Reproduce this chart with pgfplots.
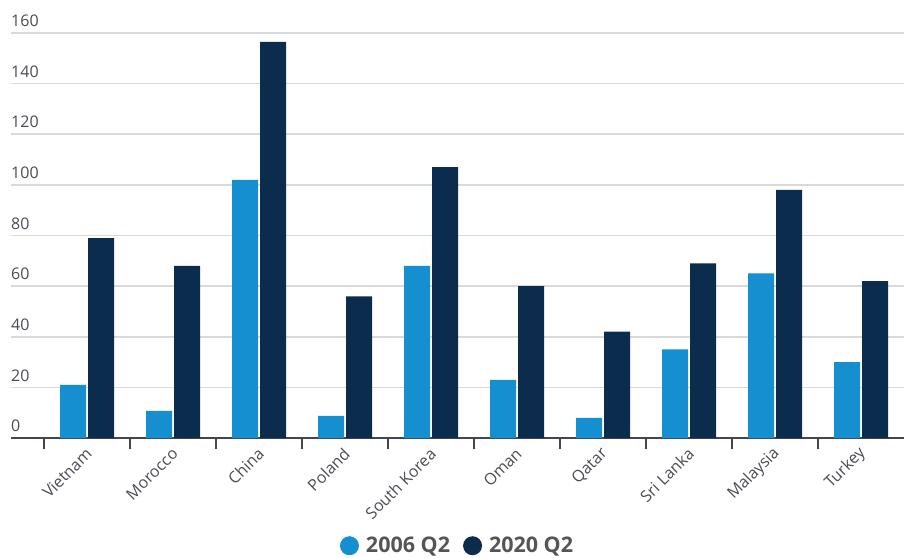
\documentclass[border=0pt]{standalone}
\usepackage{fontspec}
\setmainfont{Open Sans}
\usepackage{pgfplots}
\pgfplotsset{compat=1.18}
\definecolor{lightb}{HTML}{168FD1}
\definecolor{darkb}{HTML}{0C2C4E}
\definecolor{axisc}{HTML}{454552}
\definecolor{txt}{HTML}{4B4B57}
\definecolor{legtxt}{HTML}{555555}
\definecolor{gridc}{HTML}{D9D9D9}
\begin{document}
\begin{tikzpicture}
\begin{axis}[
  at={(0,0)}, anchor=south west,
  scale only axis, width=893pt, height=405pt,
  ybar=2pt, bar width=26pt,
  xmin=-0.884, xmax=9.5, ymin=0, ymax=160,
  enlarge x limits=false, enlarge y limits=false,
  axis x line*=bottom, axis y line*=left,
  x axis line style={line width=2.5pt, color=axisc, -},
  y axis line style={draw=none},
  /pgf/number format/assume math mode=true,
  xtick={0,...,9},
  xticklabels={Vietnam,Morocco,China,Poland,South Korea,Oman,Qatar,Sri Lanka,Malaysia,Turkey},
  minor xtick={-0.5,0.5,...,8.5},
  major tick length=0pt, minor tick length=11pt, tick align=outside,
  minor tick style={line width=2pt, color=axisc},
  xticklabel style={xshift=2pt, yshift=-13pt, rotate=45, anchor=east, inner sep=0pt, font=\fontsize{16}{19}\selectfont, text=txt},
  ytick={0,20,...,160},
  ymajorgrids, grid style={line width=1.5pt, color=gridc},
  yticklabel style={anchor=south west, inner sep=0pt, font=\fontsize{16}{19}\selectfont, text=txt, yshift=6pt},
  clip=false,
  legend style={at={(0.4995,-0.266)}, anchor=center, draw=none, fill=none,
    legend columns=2, font=\bfseries\fontsize{21.5}{24}\selectfont, text=legtxt,
    nodes={inner sep=1pt},
    /tikz/every even column/.append style={column sep=12pt},
    /tikz/every odd column/.append style={column sep=6pt}},
]
\addplot[fill=lightb, draw=none, legend image code/.code={\fill[lightb] (0.3cm,0pt) circle (9.5pt);}] coordinates {
(0,21) (1,10.7) (2,102) (3,8.7) (4,68) (5,23) (6,8) (7,35) (8,65) (9,30)};
\addlegendentry{2006 Q2}
\addplot[fill=darkb, draw=none, legend image code/.code={\fill[darkb] (0.3cm,0pt) circle (9.5pt);}] coordinates {
(0,79) (1,68) (2,156.5) (3,56) (4,107) (5,60) (6,42) (7,69) (8,98) (9,62)};
\addlegendentry{2020 Q2}
\end{axis}
\pgfresetboundingbox
\path[use as bounding box] (-11pt,-119pt) rectangle (893pt,438pt);
\end{tikzpicture}
\end{document}
